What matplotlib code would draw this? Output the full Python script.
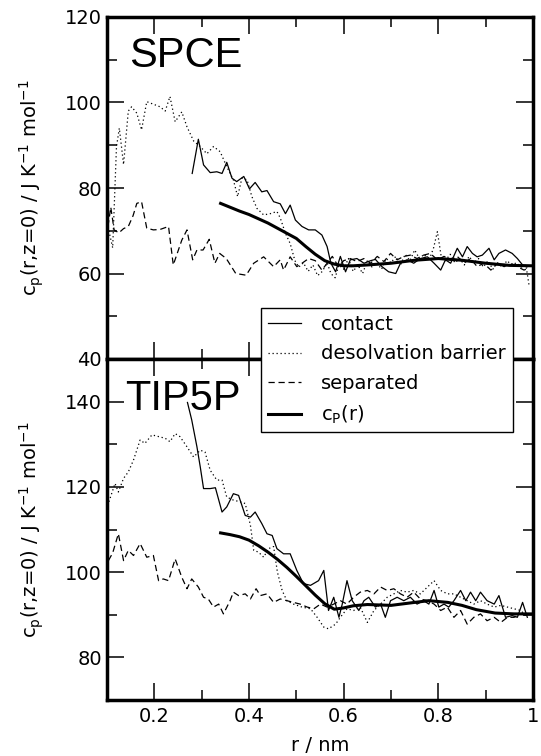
import matplotlib
matplotlib.use("Agg")
import matplotlib.pyplot as plt
from matplotlib.lines import Line2D

# ---------------- data ----------------
# SPCE
spce_contact_r = [0.280, 0.293, 0.304, 0.318, 0.332, 0.343, 0.353, 0.364, 0.374, 0.389, 0.401, 0.413,
                  0.427, 0.438, 0.452, 0.466, 0.477, 0.487, 0.498, 0.512, 0.526, 0.540, 0.554, 0.565,
                  0.573, 0.583, 0.593, 0.604, 0.614, 0.628, 0.643, 0.657, 0.667, 0.681, 0.695, 0.710,
                  0.720, 0.734, 0.748, 0.762, 0.777, 0.791, 0.805, 0.815, 0.826, 0.840, 0.851, 0.861,
                  0.872, 0.882, 0.893, 0.907, 0.918, 0.928, 0.942, 0.956, 0.967, 0.978, 0.988]
spce_contact_cp = [83.4, 91.4, 85.4, 83.6, 83.8, 83.4, 86.0, 82.3, 81.5, 82.7, 79.8, 81.3,
                   79.1, 79.4, 76.8, 76.3, 74.0, 76.0, 72.5, 71.0, 70.2, 70.2, 69.0, 66.3,
                   62.4, 60.4, 64.0, 60.4, 63.2, 63.5, 62.4, 63.0, 63.3, 61.6, 60.4, 60.0,
                   62.4, 63.2, 62.4, 63.5, 63.9, 62.4, 60.8, 63.2, 62.4, 65.9, 63.9, 66.3,
                   64.7, 63.9, 64.3, 65.9, 63.2, 64.7, 65.5, 64.7, 63.5, 62.0, 61.6]

spce_desolv_r = [0.104, 0.112, 0.120, 0.126, 0.135, 0.145, 0.152, 0.163, 0.173, 0.184, 0.198, 0.212,
                 0.223, 0.233, 0.244, 0.258, 0.269, 0.283, 0.297, 0.311, 0.325, 0.339, 0.353, 0.367,
                 0.376, 0.385, 0.396, 0.406, 0.417, 0.431, 0.445, 0.459, 0.466, 0.477, 0.487, 0.497,
                 0.505, 0.515, 0.525, 0.535, 0.545, 0.555, 0.565, 0.573, 0.582, 0.590, 0.600, 0.610,
                 0.620, 0.630, 0.640, 0.650, 0.660, 0.670, 0.680, 0.690, 0.700, 0.710, 0.720, 0.730,
                 0.740, 0.750, 0.760, 0.770, 0.780, 0.790, 0.798, 0.806, 0.815, 0.825, 0.835, 0.845,
                 0.855, 0.865, 0.875, 0.885, 0.895, 0.905, 0.915, 0.925, 0.935, 0.945, 0.955, 0.965,
                 0.975, 0.985, 0.992]
spce_desolv_cp = [70.0, 66.0, 89.6, 94.0, 85.5, 98.0, 99.0, 97.5, 93.6, 100.2, 99.6, 99.0,
                  98.0, 101.4, 95.5, 97.8, 94.3, 91.0, 89.7, 88.0, 89.7, 88.5, 85.0, 81.9,
                  78.0, 82.3, 81.9, 78.0, 75.2, 73.7, 74.0, 74.5, 73.0, 69.4, 67.0, 63.0,
                  61.5, 62.5, 60.5, 62.0, 59.5, 60.5, 62.5, 60.0, 59.0, 62.0, 61.0, 63.5,
                  60.5, 62.0, 60.0, 63.0, 61.5, 62.5, 61.0, 63.5, 62.5, 64.0, 62.0, 64.5,
                  63.0, 65.5, 63.5, 64.5, 63.0, 66.0, 69.8, 64.0, 63.0, 64.5, 62.5, 63.5,
                  62.0, 64.0, 62.5, 63.5, 61.5, 63.0, 61.0, 62.5, 61.5, 63.0, 62.0, 62.5,
                  61.5, 62.0, 57.0]

spce_sep_r = [0.102, 0.108, 0.115, 0.125, 0.135, 0.145, 0.155, 0.163, 0.173, 0.184, 0.198, 0.212,
              0.230, 0.240, 0.258, 0.269, 0.281, 0.290, 0.303, 0.316, 0.328, 0.338, 0.352, 0.372,
              0.394, 0.410, 0.431, 0.452, 0.466, 0.473, 0.487, 0.501, 0.512, 0.526, 0.540, 0.554,
              0.565, 0.576, 0.589, 0.600, 0.614, 0.628, 0.643, 0.657, 0.671, 0.685, 0.699, 0.713,
              0.727, 0.741, 0.755, 0.769, 0.783, 0.798, 0.812, 0.826, 0.840, 0.854, 0.868, 0.882,
              0.896, 0.911, 0.925, 0.939, 0.953, 0.967, 0.981, 0.990]
spce_sep_cp = [71.0, 75.5, 70.2, 69.5, 70.5, 71.0, 73.5, 76.4, 76.8, 70.6, 70.2, 70.3,
               71.0, 62.0, 67.8, 70.2, 63.2, 65.5, 65.5, 68.0, 62.4, 64.7, 63.5, 60.0,
               59.6, 62.4, 63.9, 61.6, 63.2, 60.8, 63.9, 61.6, 62.4, 63.5, 63.0, 60.8,
               62.4, 64.0, 61.6, 63.0, 63.5, 62.8, 63.5, 62.4, 64.0, 62.8, 64.7, 63.2,
               64.0, 64.3, 63.5, 64.3, 64.7, 63.2, 64.0, 63.2, 64.0, 62.4, 63.5, 61.6,
               62.4, 60.8, 62.4, 61.6, 62.4, 61.6, 60.8, 61.2]

spce_avg_r = [0.34, 0.36, 0.38, 0.40, 0.42, 0.44, 0.46, 0.48, 0.50, 0.52, 0.54, 0.56, 0.58,
              0.60, 0.62, 0.65, 0.70, 0.75, 0.80, 0.85, 0.90, 0.95, 1.00]
spce_avg_cp = [76.4, 75.5, 74.6, 73.8, 72.8, 71.8, 70.6, 69.4, 68.2, 66.3, 64.5, 63.0, 62.2,
               61.8, 61.8, 62.0, 62.4, 63.1, 63.5, 63.1, 62.4, 61.9, 61.8]

# TIP5P
tip_contact_r = [0.270, 0.279, 0.290, 0.297, 0.304, 0.318, 0.329, 0.343, 0.353, 0.367, 0.378, 0.392,
                 0.403, 0.413, 0.427, 0.438, 0.449, 0.459, 0.473, 0.487, 0.501, 0.515, 0.530, 0.547,
                 0.558, 0.568, 0.579, 0.590, 0.597, 0.607, 0.618, 0.632, 0.643, 0.653, 0.667, 0.678,
                 0.688, 0.699, 0.713, 0.727, 0.741, 0.755, 0.769, 0.780, 0.791, 0.801, 0.812, 0.822,
                 0.833, 0.847, 0.858, 0.868, 0.879, 0.889, 0.903, 0.918, 0.928, 0.942, 0.956, 0.967,
                 0.978, 0.988]
tip_contact_cp = [139.8, 135.7, 129.4, 124.7, 119.6, 119.6, 119.8, 114.1, 115.3, 118.4, 118.0, 113.3,
                  112.9, 114.1, 111.4, 109.0, 108.6, 105.5, 104.3, 104.3, 100.4, 97.3, 96.9, 98.0,
                  100.4, 91.0, 94.1, 89.4, 92.5, 98.0, 93.3, 91.0, 93.3, 94.1, 91.8, 92.5,
                  89.4, 93.3, 94.1, 93.3, 94.1, 92.5, 93.3, 92.5, 95.7, 91.8, 92.5, 91.8,
                  93.3, 95.7, 93.3, 95.3, 93.3, 95.3, 93.3, 92.5, 94.5, 89.4, 89.8, 89.4,
                  92.9, 89.4]

tip_desolv_r = [0.104, 0.117, 0.124, 0.135, 0.145, 0.156, 0.170, 0.180, 0.195, 0.209, 0.223, 0.233,
                0.244, 0.254, 0.269, 0.283, 0.297, 0.307, 0.318, 0.332, 0.343, 0.353, 0.367, 0.381,
                0.392, 0.403, 0.410, 0.420, 0.431, 0.441, 0.452, 0.460, 0.470, 0.480, 0.494, 0.512,
                0.530, 0.544, 0.558, 0.568, 0.583, 0.593, 0.607, 0.621, 0.635, 0.650, 0.664, 0.678,
                0.692, 0.706, 0.720, 0.734, 0.748, 0.762, 0.777, 0.791, 0.805, 0.819, 0.833, 0.847,
                0.861, 0.875, 0.889, 0.903, 0.918, 0.932, 0.946, 0.960, 0.974, 0.988]
tip_desolv_cp = [116.5, 120.8, 118.8, 122.0, 123.5, 126.3, 131.0, 130.2, 132.2, 131.8, 131.4, 130.6,
                 132.5, 131.8, 129.4, 127.0, 128.6, 128.2, 123.9, 121.6, 121.6, 117.6, 116.9, 116.5,
                 116.1, 111.0, 105.1, 104.7, 103.5, 105.5, 106.0, 100.0, 95.7, 93.3, 92.5, 91.8,
                 91.4, 89.4, 87.1, 86.7, 87.8, 89.4, 91.4, 91.0, 91.8, 88.2, 91.0, 92.5,
                 94.1, 94.9, 95.7, 95.3, 95.7, 94.9, 96.5, 98.0, 95.7, 94.9, 94.9, 94.1,
                 93.3, 92.5, 93.3, 92.5, 91.8, 92.2, 91.8, 91.4, 91.0, 89.4]

tip_sep_r = [0.103, 0.112, 0.124, 0.135, 0.145, 0.156, 0.170, 0.184, 0.198, 0.209, 0.219, 0.230,
             0.244, 0.258, 0.269, 0.279, 0.293, 0.304, 0.314, 0.325, 0.336, 0.346, 0.360, 0.367,
             0.378, 0.392, 0.403, 0.415, 0.424, 0.438, 0.452, 0.466, 0.480, 0.494, 0.508, 0.523,
             0.537, 0.551, 0.565, 0.579, 0.593, 0.607, 0.621, 0.635, 0.650, 0.664, 0.678, 0.692,
             0.706, 0.720, 0.734, 0.748, 0.762, 0.777, 0.791, 0.805, 0.819, 0.833, 0.847, 0.861,
             0.875, 0.889, 0.903, 0.918, 0.932, 0.946, 0.960, 0.974, 0.988]
tip_sep_cp = [102.7, 104.5, 109.0, 102.7, 105.1, 103.9, 106.7, 103.5, 103.9, 98.0, 98.4, 98.0,
              103.1, 98.8, 96.1, 98.4, 96.5, 94.1, 93.7, 91.8, 92.5, 90.2, 93.3, 95.3,
              94.5, 94.9, 93.7, 96.1, 94.5, 94.9, 92.9, 93.7, 93.3, 92.9, 92.5, 91.8,
              91.4, 92.5, 91.8, 92.5, 93.3, 92.5, 94.1, 95.3, 95.7, 94.9, 96.5, 95.7,
              96.1, 94.9, 94.1, 95.3, 93.7, 93.3, 92.5, 91.0, 91.8, 89.4, 91.0, 87.8,
              89.4, 90.2, 88.6, 89.4, 88.2, 89.4, 89.4, 90.2, 89.8]

tip_avg_r = [0.34, 0.36, 0.38, 0.40, 0.42, 0.44, 0.46, 0.48, 0.50, 0.52, 0.54, 0.56, 0.58,
             0.60, 0.62, 0.65, 0.70, 0.75, 0.78, 0.82, 0.85, 0.88, 0.92, 0.96, 1.00]
tip_avg_cp = [109.2, 108.8, 108.3, 107.5, 106.2, 104.7, 103.0, 101.1, 99.0, 96.8, 94.6, 92.6, 91.3,
              91.6, 92.1, 92.4, 92.2, 92.9, 93.3, 92.9, 92.2, 91.2, 90.4, 90.2, 90.2]

legend_labels = ["contact", "desolvation barrier", "separated", r"c$_\mathregular{P}$(r)"]
panel_names = ["SPCE", "TIP5P"]
x_ticks = [0.2, 0.4, 0.6, 0.8, 1.0]
x_tick_labels = ["0.2", "0.4", "0.6", "0.8", "1"]
top_yticks = [40, 60, 80, 100, 120]
bot_yticks = [80, 100, 120, 140]

# ---------------- styling ----------------
plt.rcParams['font.family'] = ['DejaVu Sans']
plt.rcParams['mathtext.default'] = 'regular'

W, H, DPI = 541, 756, 100
fig = plt.figure(figsize=(W / DPI, H / DPI), dpi=DPI)

L, R = 107 / W, 533 / W
ax_top = fig.add_axes([L, 1 - 359 / H, R - L, 342 / H])
ax_bot = fig.add_axes([L, 1 - 700 / H, R - L, 341 / H])

thin = 0.9
styles = dict(
    contact=dict(color='black', lw=thin, ls='-'),
    desolv=dict(color='black', lw=thin, ls=(0, (1.0, 2.2))),
    sep=dict(color='black', lw=thin, ls=(0, (5.0, 3.0))),
    avg=dict(color='black', lw=2.2, ls='-'),
)

def style_axes(ax, ylim, yticks, ymin_minor):
    ax.set_xlim(0.1, 1.0)
    ax.set_ylim(*ylim)
    ax.set_xticks(x_ticks)
    ax.set_xticks([0.3, 0.5, 0.7, 0.9], minor=True)
    ax.set_yticks(yticks)
    ax.set_yticks(ymin_minor, minor=True)
    for s in ax.spines.values():
        s.set_linewidth(2.5)
    ax.tick_params(which='both', direction='in', top=True, right=True, width=1.1, labelsize=14)
    ax.tick_params(which='major', length=12)
    ax.tick_params(which='minor', length=7)
    ax.tick_params(axis='y', pad=3.5)
    ax.tick_params(axis='x', pad=5)

# top panel
ax_top.plot(spce_contact_r, spce_contact_cp, **styles['contact'])
ax_top.plot(spce_desolv_r, spce_desolv_cp, **styles['desolv'])
ax_top.plot(spce_sep_r, spce_sep_cp, **styles['sep'])
ax_top.plot(spce_avg_r, spce_avg_cp, **styles['avg'])
style_axes(ax_top, (40, 120), top_yticks, [50, 70, 90, 110])
ax_top.tick_params(axis='x', labelbottom=False)

# bottom panel
ax_bot.plot(tip_contact_r, tip_contact_cp, **styles['contact'])
ax_bot.plot(tip_desolv_r, tip_desolv_cp, **styles['desolv'])
ax_bot.plot(tip_sep_r, tip_sep_cp, **styles['sep'])
ax_bot.plot(tip_avg_r, tip_avg_cp, **styles['avg'])
style_axes(ax_bot, (70, 150), bot_yticks, [90, 110, 130])
ax_bot.set_xticklabels(x_tick_labels)

ylab = r'c$_\mathregular{p}$(r,z=0) / J K$^\mathregular{-1}$ mol$^\mathregular{-1}$'
for ax in (ax_top, ax_bot):
    ax.set_ylabel(ylab, fontsize=14)
    ax.yaxis.label.set_verticalalignment('center')
    ax.yaxis.set_label_coords(-0.177, 0.5)

ax_bot.set_xlabel('r / nm', fontsize=14)
ax_bot.xaxis.label.set_verticalalignment('center')
ax_bot.xaxis.set_label_coords(0.5, -0.132)

ax_top.text(0.0516, 0.854, panel_names[0], transform=ax_top.transAxes, fontsize=30,
            family='Liberation Sans', va='baseline', ha='left')
ax_bot.text(0.042, 0.850, panel_names[1], transform=ax_bot.transAxes, fontsize=30,
            family='Liberation Sans', va='baseline', ha='left')

handles = [Line2D([], [], **styles['contact']),
           Line2D([], [], **styles['desolv']),
           Line2D([], [], **styles['sep']),
           Line2D([], [], **styles['avg'])]
leg = fig.legend(handles, legend_labels, loc='upper left',
                 bbox_to_anchor=(261 / W, 1 - 308 / H), bbox_transform=fig.transFigure,
                 fontsize=14, frameon=True, fancybox=False, framealpha=1, edgecolor='black',
                 handlelength=1.7, handletextpad=1.05, borderpad=0.35, labelspacing=0.54,
                 borderaxespad=0)
leg.get_frame().set_linewidth(1.0)

fig.savefig('out.png', dpi=DPI)
